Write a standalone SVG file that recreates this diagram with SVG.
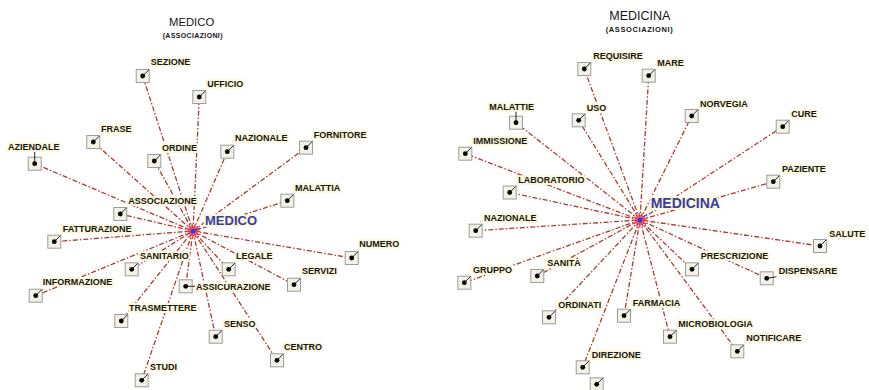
<svg xmlns="http://www.w3.org/2000/svg" width="869" height="390" viewBox="0 0 869 390">
<style>
.bg{fill:#ffffff}
.con line{stroke:#b0392b;stroke-width:1.3;stroke-dasharray:5 2 1.5 2;fill:none}
.node rect{fill:#f4f2e6;stroke:#9c9c9c;stroke-width:1}
.node line{stroke:#111;stroke-width:0.9}
.node circle{fill:#000}
.node text,.title,.sub{font-family:"Liberation Sans",Arial,sans-serif;fill:#151515}
.node text{font-size:9px;font-weight:bold;stroke:#fcf8dc;stroke-width:4;stroke-linejoin:round;paint-order:stroke}
.title{font-size:11.3px}
.sub{font-size:7px;font-weight:bold;letter-spacing:0.35px}
.hub text{font-family:"Liberation Sans",Arial,sans-serif;font-weight:bold;fill:#3b3ca3;stroke:#fcf8dc;stroke-width:4;stroke-linejoin:round;paint-order:stroke}
.burst{fill:#ff6b7a;stroke:#e8283c;stroke-width:4;stroke-dasharray:1.2 1.2}
.hubdot{fill:#2e3fc8}
.hubtick{stroke:#2e3fc8;stroke-width:1}
</style>
<rect class="bg" x="0" y="0" width="869" height="390"/>
<text class="title" x="169" y="25.7">MEDICO</text>
<text class="sub" x="162.7" y="38.3">(ASSOCIAZIONI)</text>
<text class="title" x="609.3" y="20.4" style="font-size:12.5px">MEDICINA</text>
<text class="sub" x="605.7" y="31.7" style="font-size:7.5px;letter-spacing:0.6px">(ASSOCIAZIONI)</text>
<g id="connectors" class="con">
<line x1="193" y1="231" x2="142.7" y2="76"/>
<line x1="193" y1="231" x2="199.3" y2="97"/>
<line x1="193" y1="231" x2="93.3" y2="142"/>
<line x1="193" y1="231" x2="34.7" y2="163.7"/>
<line x1="193" y1="231" x2="154.3" y2="161"/>
<line x1="193" y1="231" x2="227.3" y2="151.7"/>
<line x1="193" y1="231" x2="306" y2="147.7"/>
<line x1="193" y1="231" x2="287.3" y2="200.7"/>
<line x1="193" y1="231" x2="120.3" y2="214"/>
<line x1="193" y1="231" x2="54.3" y2="241.7"/>
<line x1="193" y1="231" x2="131.7" y2="269.3"/>
<line x1="193" y1="231" x2="35.7" y2="295.7"/>
<line x1="193" y1="231" x2="185.7" y2="286.3"/>
<line x1="193" y1="231" x2="121.3" y2="321"/>
<line x1="193" y1="231" x2="141.7" y2="380.3"/>
<line x1="193" y1="231" x2="351.7" y2="258"/>
<line x1="193" y1="231" x2="228.7" y2="269.3"/>
<line x1="193" y1="231" x2="294" y2="284.7"/>
<line x1="193" y1="231" x2="215.7" y2="336.7"/>
<line x1="193" y1="231" x2="277" y2="360.3"/>
<line x1="640" y1="220" x2="584.3" y2="69"/>
<line x1="640" y1="220" x2="648.7" y2="75.7"/>
<line x1="640" y1="220" x2="516" y2="122.7"/>
<line x1="640" y1="220" x2="578.7" y2="120.3"/>
<line x1="640" y1="220" x2="465.3" y2="153.7"/>
<line x1="640" y1="220" x2="509.7" y2="192.5"/>
<line x1="640" y1="220" x2="691.7" y2="116"/>
<line x1="640" y1="220" x2="782.7" y2="126.7"/>
<line x1="640" y1="220" x2="773.3" y2="181.7"/>
<line x1="640" y1="220" x2="475.7" y2="230.7"/>
<line x1="640" y1="220" x2="464.3" y2="282.7"/>
<line x1="640" y1="220" x2="537.3" y2="276"/>
<line x1="640" y1="220" x2="549" y2="317.3"/>
<line x1="640" y1="220" x2="624" y2="315.7"/>
<line x1="640" y1="220" x2="582.7" y2="367.3"/>
<line x1="640" y1="220" x2="820" y2="246"/>
<line x1="640" y1="220" x2="692" y2="269.3"/>
<line x1="640" y1="220" x2="766.7" y2="278.3"/>
<line x1="640" y1="220" x2="670" y2="336.7"/>
<line x1="640" y1="220" x2="737.3" y2="351.3"/>
</g>
<g id="hub-medico" class="hub">
<circle class="burst" cx="193" cy="231" r="5"/>
<line class="hubtick" x1="193" y1="231" x2="200" y2="228"/>
<circle class="hubdot" cx="193" cy="231" r="2.6"/>
<text x="205" y="225.4" style="font-size:13px">MEDICO</text>
</g>
<g id="hub-medicina" class="hub">
<circle class="burst" cx="640" cy="220" r="5"/>
<line class="hubtick" x1="640" y1="220" x2="647" y2="214"/>
<circle class="hubdot" cx="640" cy="220" r="2.6"/>
<text x="650.7" y="208.3" style="font-size:14px">MEDICINA</text>
</g>
<g id="l-sezione" class="node"><rect x="136.2" y="69.5" width="13" height="13"/><line x1="142.7" y1="76" x2="148.7" y2="70"/><circle cx="142.7" cy="76" r="2.4"/><text x="150.7" y="65.2">SEZIONE</text></g>
<g id="l-ufficio" class="node"><rect x="192.8" y="90.5" width="13" height="13"/><line x1="199.3" y1="97" x2="205.3" y2="91"/><circle cx="199.3" cy="97" r="2.4"/><text x="207.3" y="86.5">UFFICIO</text></g>
<g id="l-frase" class="node"><rect x="86.8" y="135.5" width="13" height="13"/><line x1="93.3" y1="142" x2="99.3" y2="136"/><circle cx="93.3" cy="142" r="2.4"/><text x="101" y="131.5">FRASE</text></g>
<g id="l-aziendale" class="node"><rect x="28.2" y="157.2" width="13" height="13"/><line x1="34.7" y1="163.7" x2="34.7" y2="151"/><circle cx="34.7" cy="163.7" r="2.4"/><text x="8" y="149.9">AZIENDALE</text></g>
<g id="l-ordine" class="node"><rect x="147.8" y="154.5" width="13" height="13"/><line x1="154.3" y1="161" x2="160.3" y2="155"/><circle cx="154.3" cy="161" r="2.4"/><text x="162" y="150.5">ORDINE</text></g>
<g id="l-nazionale" class="node"><rect x="220.8" y="145.2" width="13" height="13"/><line x1="227.3" y1="151.7" x2="233.3" y2="145.7"/><circle cx="227.3" cy="151.7" r="2.4"/><text x="235" y="140.9">NAZIONALE</text></g>
<g id="l-fornitore" class="node"><rect x="299.5" y="141.2" width="13" height="13"/><line x1="306" y1="147.7" x2="312" y2="141.7"/><circle cx="306" cy="147.7" r="2.4"/><text x="313.7" y="137.5">FORNITORE</text></g>
<g id="l-malattia" class="node"><rect x="280.8" y="194.2" width="13" height="13"/><line x1="287.3" y1="200.7" x2="293.3" y2="194.7"/><circle cx="287.3" cy="200.7" r="2.4"/><text x="295" y="190.5">MALATTIA</text></g>
<g id="l-associazione" class="node"><rect x="113.8" y="207.5" width="13" height="13"/><line x1="120.3" y1="214" x2="126.3" y2="208"/><circle cx="120.3" cy="214" r="2.4"/><text x="128.3" y="203.9">ASSOCIAZIONE</text></g>
<g id="l-fatturazione" class="node"><rect x="47.8" y="235.2" width="13" height="13"/><line x1="54.3" y1="241.7" x2="60.3" y2="235.7"/><circle cx="54.3" cy="241.7" r="2.4"/><text x="62.7" y="231.5">FATTURAZIONE</text></g>
<g id="l-sanitario" class="node"><rect x="125.2" y="262.8" width="13" height="13"/><line x1="131.7" y1="269.3" x2="137.7" y2="263.3"/><circle cx="131.7" cy="269.3" r="2.4"/><text x="140" y="258.9">SANITARIO</text></g>
<g id="l-informazione" class="node"><rect x="29.2" y="289.2" width="13" height="13"/><line x1="35.7" y1="295.7" x2="41.7" y2="289.7"/><circle cx="35.7" cy="295.7" r="2.4"/><text x="42.7" y="285.2">INFORMAZIONE</text></g>
<g id="l-assicurazione" class="node"><rect x="179.2" y="279.8" width="13" height="13"/><line x1="185.7" y1="286.3" x2="195" y2="286.3"/><circle cx="185.7" cy="286.3" r="2.4"/><text x="196" y="289.5">ASSICURAZIONE</text></g>
<g id="l-trasmettere" class="node"><rect x="114.8" y="314.5" width="13" height="13"/><line x1="121.3" y1="321" x2="127.3" y2="315"/><circle cx="121.3" cy="321" r="2.4"/><text x="129" y="310.5">TRASMETTERE</text></g>
<g id="l-studi" class="node"><rect x="135.2" y="373.8" width="13" height="13"/><line x1="141.7" y1="380.3" x2="147.7" y2="374.3"/><circle cx="141.7" cy="380.3" r="2.4"/><text x="150" y="369.9">STUDI</text></g>
<g id="l-numero" class="node"><rect x="345.2" y="251.5" width="13" height="13"/><line x1="351.7" y1="258" x2="357.7" y2="252"/><circle cx="351.7" cy="258" r="2.4"/><text x="359.3" y="247.2">NUMERO</text></g>
<g id="l-legale" class="node"><rect x="222.2" y="262.8" width="13" height="13"/><line x1="228.7" y1="269.3" x2="234.7" y2="263.3"/><circle cx="228.7" cy="269.3" r="2.4"/><text x="236" y="258.9">LEGALE</text></g>
<g id="l-servizi" class="node"><rect x="287.5" y="278.2" width="13" height="13"/><line x1="294" y1="284.7" x2="300" y2="278.7"/><circle cx="294" cy="284.7" r="2.4"/><text x="302" y="274.2">SERVIZI</text></g>
<g id="l-senso" class="node"><rect x="209.2" y="330.2" width="13" height="13"/><line x1="215.7" y1="336.7" x2="221.7" y2="330.7"/><circle cx="215.7" cy="336.7" r="2.4"/><text x="224" y="326.5">SENSO</text></g>
<g id="l-centro" class="node"><rect x="270.5" y="353.8" width="13" height="13"/><line x1="277" y1="360.3" x2="283" y2="354.3"/><circle cx="277" cy="360.3" r="2.4"/><text x="284" y="349.9">CENTRO</text></g>
<g id="r-requisire" class="node"><rect x="577.8" y="62.5" width="13" height="13"/><line x1="584.3" y1="69" x2="590.3" y2="63"/><circle cx="584.3" cy="69" r="2.4"/><text x="593.3" y="59.2">REQUISIRE</text></g>
<g id="r-mare" class="node"><rect x="642.2" y="69.2" width="13" height="13"/><line x1="648.7" y1="75.7" x2="654.7" y2="69.7"/><circle cx="648.7" cy="75.7" r="2.4"/><text x="657.3" y="65.9">MARE</text></g>
<g id="r-malattie" class="node"><rect x="509.5" y="116.2" width="13" height="13"/><line x1="516" y1="122.7" x2="516" y2="111"/><circle cx="516" cy="122.7" r="2.4"/><text x="489.3" y="109.9">MALATTIE</text></g>
<g id="r-uso" class="node"><rect x="572.2" y="113.8" width="13" height="13"/><line x1="578.7" y1="120.3" x2="584.7" y2="114.3"/><circle cx="578.7" cy="120.3" r="2.4"/><text x="586.7" y="110.5">USO</text></g>
<g id="r-immissione" class="node"><rect x="458.8" y="147.2" width="13" height="13"/><line x1="465.3" y1="153.7" x2="471.3" y2="147.7"/><circle cx="465.3" cy="153.7" r="2.4"/><text x="473.3" y="143.9">IMMISSIONE</text></g>
<g id="r-laboratorio" class="node"><rect x="503.2" y="186" width="13" height="13"/><line x1="509.7" y1="192.5" x2="515.7" y2="186.5"/><circle cx="509.7" cy="192.5" r="2.4"/><text x="518.3" y="182.5">LABORATORIO</text></g>
<g id="r-norvegia" class="node"><rect x="685.2" y="109.5" width="13" height="13"/><line x1="691.7" y1="116" x2="697.7" y2="110"/><circle cx="691.7" cy="116" r="2.4"/><text x="700" y="106.5">NORVEGIA</text></g>
<g id="r-cure" class="node"><rect x="776.2" y="120.2" width="13" height="13"/><line x1="782.7" y1="126.7" x2="788.7" y2="120.7"/><circle cx="782.7" cy="126.7" r="2.4"/><text x="791.3" y="117.2">CURE</text></g>
<g id="r-paziente" class="node"><rect x="766.8" y="175.2" width="13" height="13"/><line x1="773.3" y1="181.7" x2="779.3" y2="175.7"/><circle cx="773.3" cy="181.7" r="2.4"/><text x="782" y="171.9">PAZIENTE</text></g>
<g id="r-nazionale" class="node"><rect x="469.2" y="224.2" width="13" height="13"/><line x1="475.7" y1="230.7" x2="481.7" y2="224.7"/><circle cx="475.7" cy="230.7" r="2.4"/><text x="484" y="220.5">NAZIONALE</text></g>
<g id="r-gruppo" class="node"><rect x="457.8" y="276.2" width="13" height="13"/><line x1="464.3" y1="282.7" x2="470.3" y2="276.7"/><circle cx="464.3" cy="282.7" r="2.4"/><text x="473" y="273.2">GRUPPO</text></g>
<g id="r-sanita" class="node"><rect x="530.8" y="269.5" width="13" height="13"/><line x1="537.3" y1="276" x2="543.3" y2="270"/><circle cx="537.3" cy="276" r="2.4"/><text x="547.3" y="265.9">SANITÀ</text></g>
<g id="r-ordinati" class="node"><rect x="542.5" y="310.8" width="13" height="13"/><line x1="549" y1="317.3" x2="555" y2="311.3"/><circle cx="549" cy="317.3" r="2.4"/><text x="558.3" y="308.2">ORDINATI</text></g>
<g id="r-farmacia" class="node"><rect x="617.5" y="309.2" width="13" height="13"/><line x1="624" y1="315.7" x2="630" y2="309.7"/><circle cx="624" cy="315.7" r="2.4"/><text x="632.7" y="305.9">FARMACIA</text></g>
<g id="r-direzione" class="node"><rect x="576.2" y="360.8" width="13" height="13"/><line x1="582.7" y1="367.3" x2="588.7" y2="361.3"/><circle cx="582.7" cy="367.3" r="2.4"/><text x="591.7" y="357.5">DIREZIONE</text></g>
<g id="r-salute" class="node"><rect x="813.5" y="239.5" width="13" height="13"/><line x1="820" y1="246" x2="826" y2="240"/><circle cx="820" cy="246" r="2.4"/><text x="829.3" y="236.5">SALUTE</text></g>
<g id="r-prescrizione" class="node"><rect x="685.5" y="262.8" width="13" height="13"/><line x1="692" y1="269.3" x2="698" y2="263.3"/><circle cx="692" cy="269.3" r="2.4"/><text x="700.7" y="259.2">PRESCRIZIONE</text></g>
<g id="r-dispensare" class="node"><rect x="760.2" y="271.8" width="13" height="13"/><line x1="766.7" y1="278.3" x2="776.5" y2="276.8"/><circle cx="766.7" cy="278.3" r="2.4"/><text x="778.7" y="274.2">DISPENSARE</text></g>
<g id="r-microbiologia" class="node"><rect x="663.5" y="330.2" width="13" height="13"/><line x1="670" y1="336.7" x2="676" y2="330.7"/><circle cx="670" cy="336.7" r="2.4"/><text x="678.3" y="327.2">MICROBIOLOGIA</text></g>
<g id="r-notificare" class="node"><rect x="730.8" y="344.8" width="13" height="13"/><line x1="737.3" y1="351.3" x2="743.3" y2="345.3"/><circle cx="737.3" cy="351.3" r="2.4"/><text x="746.3" y="340.9">NOTIFICARE</text></g>
<g id="r-unlabeled" class="node"><rect x="590.2" y="377.8" width="13" height="13"/><line x1="596.7" y1="384.3" x2="602.7" y2="378.3"/><circle cx="596.7" cy="384.3" r="2.4"/></g>
</svg>
